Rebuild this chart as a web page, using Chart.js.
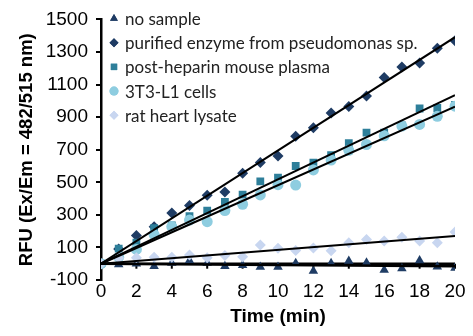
<!DOCTYPE html>
<html lang="en">
<head>
<meta charset="UTF-8">
<title>RFU vs time</title>
<script src="https://cdn.jsdelivr.net/npm/chart.js@4"></script>
<style>
  body { margin: 0; background: #fff; }
  .wrap { width: 473px; height: 336px; position: relative; }
</style>
</head>
<body>
<div class="wrap"><canvas id="rfuChart"></canvas></div>
<script>
// time points (min)
const minutes = [0, 1, 2, 3, 4, 5, 6, 7, 8, 9, 10, 11, 12, 13, 14, 15, 16, 17, 18, 19, 20];

// RFU readings per sample
const noSample    = [0, -5, 0, -16, 5, 19, 5, -16, -10, -20, -20, 3, -44, 3, 17, 6, -38, -30, 19, -18, -27];
const purified    = [0, 90, 173, 227, 312, 358, 421, 441, 555, 622, 662, 782, 835, 925, 965, 1030, 1144, 1207, 1233, 1323, 1369];
const postHeparin = [0, 93, 129, 218, 235, 292, 326, 380, 424, 505, 529, 600, 620, 666, 740, 805, 805, 850, 953, 956, 975];
const cells3T3    = [0, 40, 88, 179, 228, 268, 258, 326, 365, 422, 485, 483, 576, 636, 696, 732, 785, 845, 855, 905, 967];
const ratHeart    = [0, 35, 37, 39, 39, 53, 37, 50, 42, 115, 95, 81, 97, 79, 129, 149, 139, 163, 139, 129, 194];

const seriesNames = ['no sample', 'purified enzyme from pseudomonas sp.', 'post-heparin mouse plasma', '3T3-L1 cells', 'rat heart lysate'];
const yTicks = [-100, 100, 300, 500, 700, 900, 1100, 1300, 1500];

const series = [
  { values: noSample,    style: 'triangle', color: '#1f3c64', r: 5.5, lr: 4.5 },
  { values: purified,    style: 'rectRot',  color: '#1f3c64', r: 5.5, lr: 4.5 },
  { values: postHeparin, style: 'rect',     color: '#2e7f9a', r: 5.5, lr: 4.5 },
  { values: cells3T3,    style: 'circle',   color: '#8ecde0', r: 5.5, lr: 4.5 },
  { values: ratHeart,    style: 'rectRot',  color: '#c8d6f0', r: 5.5, lr: 4.5 }
];

function toPoints(vals) {
  return minutes.map((m, i) => ({ x: m, y: vals[i] }));
}

// least-squares line forced through the origin
function fitLine(vals) {
  let sxy = 0, sxx = 0;
  minutes.forEach((m, i) => { sxy += m * vals[i]; sxx += m * m; });
  const k = sxy / sxx;
  const last = minutes[minutes.length - 1];
  return [{ x: 0, y: 0 }, { x: last, y: k * last }];
}

const datasets = [];
series.forEach((s, i) => {
  datasets.push({
    label: seriesNames[i],
    data: toPoints(s.values),
    showLine: false,
    pointStyle: s.style,
    pointRadius: s.r,
    pointBackgroundColor: s.color,
    pointBorderColor: s.color,
    pointBorderWidth: 0,
    order: 10 - i
  });
});
series.forEach((s, i) => {
  datasets.push({
    label: 'fit',
    type: 'line',
    data: fitLine(s.values),
    borderColor: '#000',
    borderWidth: i === 0 ? 2.5 : 2,
    pointRadius: 0,
    fill: false,
    order: 0
  });
});

// horizontal axis line sits at y = 0, with tick marks hanging below it
const zeroAxis = {
  id: 'zeroAxis',
  beforeDatasetsDraw(chart) {
    const { ctx, scales: { x, y } } = chart;
    const y0 = y.getPixelForValue(0);
    ctx.save();
    ctx.strokeStyle = '#000';
    ctx.lineWidth = 2.5;
    ctx.beginPath();
    ctx.moveTo(x.getPixelForValue(0), y0);
    ctx.lineTo(x.getPixelForValue(20), y0);
    ctx.stroke();
    ctx.lineWidth = 2;
    x.ticks.forEach(t => {
      const px = x.getPixelForValue(t.value);
      ctx.beginPath();
      ctx.moveTo(px, y0);
      ctx.lineTo(px, y0 + 5);
      ctx.stroke();
    });
    ctx.restore();
  }
};

// legend drawn inside the plot, top-left
const insideLegend = {
  id: 'insideLegend',
  afterDraw(chart) {
    const ctx = chart.ctx;
    ctx.save();
    ctx.font = '17px Lato';
    ctx.textBaseline = 'middle';
    series.forEach((s, i) => {
      const cy = 18.5 + i * 24.2;
      ctx.fillStyle = s.color;
      Chart.helpers.drawPoint(ctx, {
        pointStyle: s.style, radius: s.lr, borderWidth: 0, rotation: 0
      }, 114, cy);
      ctx.fill();
      ctx.fillStyle = '#222';
      ctx.fillText(seriesNames[i], 125, cy + 1);
    });
    ctx.restore();
  }
};

new Chart(document.getElementById('rfuChart'), {
  type: 'scatter',
  data: { datasets },
  options: {
    responsive: true,
    maintainAspectRatio: false,
    animation: false,
    layout: { padding: { top: 13, right: 18, bottom: 4, left: 12 } },
    plugins: { legend: { display: false }, tooltip: { enabled: false } },
    scales: {
      x: {
        type: 'linear',
        min: 0,
        max: 20,
        ticks: { stepSize: 2, padding: 0, color: '#000', font: { family: 'Liberation Sans', size: 19 } },
        grid: { display: false, drawTicks: false },
        border: { display: false },
        title: { display: true, text: 'Time (min)', color: '#000', font: { family: 'Liberation Sans', size: 19, weight: 'bold' } },
        afterFit(s) { s.height = 52; }
      },
      y: {
        min: -100,
        max: 1500,
        afterBuildTicks(s) { s.ticks = yTicks.map(v => ({ value: v })); },
        ticks: {
          padding: 8, color: '#000', font: { family: 'Liberation Sans', size: 19 },
          callback: v => String(v)
        },
        grid: { drawOnChartArea: false, drawTicks: true, tickLength: 5, color: '#000', lineWidth: 2 },
        border: { display: true, color: '#000', width: 2.5 },
        title: { display: true, text: 'RFU (Ex/Em = 482/515 nm)', color: '#000', font: { family: 'Liberation Sans', size: 18.5, weight: 'bold' } },
        afterFit(s) { s.width = 89; }
      }
    }
  },
  plugins: [zeroAxis, insideLegend]
});
</script>
</body>
</html>
